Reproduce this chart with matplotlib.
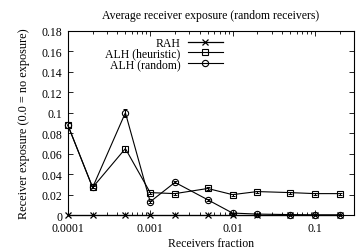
import numpy as np
import matplotlib.pyplot as plt
from matplotlib.ticker import FixedLocator, LogLocator, NullFormatter

plt.rcParams['font.family'] = ['Liberation Serif', 'DejaVu Serif']
plt.rcParams['font.size'] = 8.5

# receivers fraction
frac = [0.0001, 0.0002, 0.0005, 0.001, 0.002, 0.005, 0.01, 0.02, 0.05, 0.1, 0.2]

rah = [0, 0, 0, 0, 0, 0, 0, 0, 0, 0, 0]

alh_heur = [0.088, 0.027, 0.065, 0.022, 0.021, 0.026, 0.020, 0.023, 0.022, 0.021, 0.021]
alh_heur_err = [0.002, 0.001, 0.003, 0.001, 0.001, 0.001, 0.001, 0.001, 0.001, 0.001, 0.001]

alh_rand = [0.088, 0.027, 0.100, 0.013, 0.032, 0.015, 0.002, 0.001, 0.0005, 0.0003, 0.0003]
alh_rand_err = [0.002, 0.001, 0.004, 0.001, 0.001, 0.001, 0.0005, 0.0003, 0.0002, 0.0001, 0.0001]

yticks = [0, 0.02, 0.04, 0.06, 0.08, 0.1, 0.12, 0.14, 0.16, 0.18]
ytick_labels = ['0', '0.02', '0.04', '0.06', '0.08', '0.1', '0.12', '0.14', '0.16', '0.18']
xticks = [0.0001, 0.001, 0.01, 0.1]
xtick_labels = ['0.0001', '0.001', '0.01', '0.1']

fig = plt.figure(figsize=(3.57, 2.51), dpi=100)
ax = fig.add_axes([0.190, 0.139, 0.802, 0.734])

ekw = dict(fmt='none', ecolor='black', elinewidth=0.7, capsize=1.5, capthick=0.7)
ax.errorbar(frac, alh_heur, yerr=alh_heur_err, **ekw)
ax.errorbar(frac, alh_rand, yerr=alh_rand_err, **ekw)

ax.plot(frac, rah, color='black', lw=0.9, marker='x', ms=4, mew=0.9, label='RAH',
        clip_on=False, zorder=5)
ax.plot(frac, alh_heur, color='black', lw=0.8, marker='s', ms=4.5, mfc='none', mew=0.8,
        label='ALH (heuristic)', clip_on=False)
ax.plot(frac, alh_rand, color='black', lw=0.8, marker='o', ms=4.5, mfc='none', mew=0.8,
        label='ALH (random)', clip_on=False)

ax.set_xscale('log')
ax.set_xlim(0.0001, 0.3)
ax.set_ylim(0, 0.18)
ax.xaxis.set_major_locator(FixedLocator(xticks))
ax.set_xticklabels(xtick_labels)
ax.xaxis.set_minor_locator(LogLocator(base=10, subs=np.arange(2, 10)))
ax.xaxis.set_minor_formatter(NullFormatter())
ax.set_yticks(yticks)
ax.set_yticklabels(ytick_labels)
ax.tick_params(which='both', direction='in', top=True, right=True, width=0.6)
ax.tick_params(which='major', length=3.5)
ax.tick_params(axis='x', which='major', pad=5)
ax.tick_params(axis='y', which='major', pad=4)
ax.tick_params(which='minor', length=2)
for s in ax.spines.values():
    s.set_linewidth(0.8)

ax.set_xlabel('Receivers fraction', labelpad=2)
ax.set_ylabel('Receiver exposure (0.0 = no exposure)', fontsize=8.8, labelpad=8)
ax.set_title('Average receiver exposure (random receivers)', fontsize=8.5, pad=9)

ax.legend(loc='upper right', bbox_to_anchor=(0.575, 1.02), frameon=False, markerfirst=False,
          handlelength=3.0, handletextpad=0.6, labelspacing=-0.12, borderpad=0.3)

fig.savefig('out.png', dpi=100)
